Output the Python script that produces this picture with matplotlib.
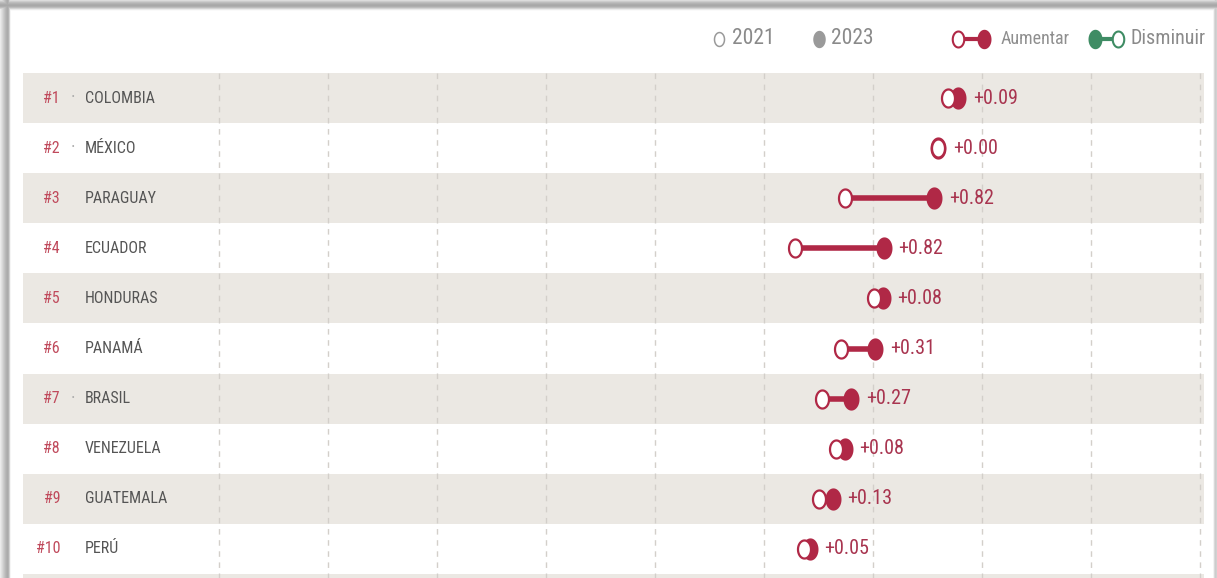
import numpy as np
import matplotlib
matplotlib.use("Agg")
import matplotlib.pyplot as plt
from matplotlib import font_manager
from matplotlib.path import Path
from matplotlib.transforms import blended_transform_factory

# ---------------- data ----------------
ranks = ['#1', '#2', '#3', '#4', '#5', '#6', '#7', '#8', '#9', '#10']
countries = ['COLOMBIA', 'MÉXICO', 'PARAGUAY', 'ECUADOR', 'HONDURAS',
             'PANAMÁ', 'BRASIL', 'VENEZUELA', 'GUATEMALA', 'PERÚ']
score_2021 = [7.69, 7.60, 6.74, 6.28, 7.01, 6.71, 6.53, 6.66, 6.50, 6.37]
score_2023 = [7.78, 7.60, 7.56, 7.10, 7.09, 7.02, 6.80, 6.74, 6.63, 6.42]
rank_marker = ['·', '·', '', '', '', '', '·', '', '', '']
grid_ticks = [1, 2, 3, 4, 5, 6, 7, 8, 9, 10]
legend_years = ['2021', '2023']
legend_dirs = ['Aumentar', 'Disminuir']

# ---------------- style ----------------
RED = '#b02846'
RED_TXT = '#a8344f'
RANK_C = '#c04a5c'
GREEN = '#3f8c64'
BAND = '#ebe8e3'
GRID = '#d3cfca'
TXT = '#555555'
LEG_GRAY = '#9a9a9a'

names = {f.name for f in font_manager.fontManager.ttflist}
FONT = None
for cand in ['Liberation Sans Narrow', 'Roboto Condensed', 'Open Sans Condensed', 'Liberation Sans']:
    if cand in names:
        FONT = cand
        break
if FONT is None:
    FONT = 'DejaVu Sans'
plt.rcParams['font.family'] = [FONT, 'DejaVu Sans']

# tall ellipse marker (the reference appears horizontally squeezed)
_t = np.linspace(0, 2 * np.pi, 73)
ELL = Path(np.column_stack([0.36 * np.cos(_t), 0.5 * np.sin(_t)]), closed=True)

W, H = 1217, 578
fig = plt.figure(figsize=(W / 100, H / 100), dpi=100)
fig.patch.set_facecolor('white')

# ---------------- overlay (frame shadow + legend) ----------------
ov = fig.add_axes([0, 0, 1, 1], zorder=0)
ov.set_xlim(0, W)
ov.set_ylim(H, 0)
ov.axis('off')

img = np.ones((H, W))
top_prof = np.array([0.86, 0.80, 0.74, 0.70, 0.67, 0.66, 0.68, 0.74, 0.83, 0.92, 0.98])
left_prof = np.array([0.92, 0.88, 0.84, 0.80, 0.76, 0.72, 0.69, 0.67, 0.70, 0.82, 0.96])
for i, v in enumerate(top_prof):
    img[i, :] = np.minimum(img[i, :], v)
for j, v in enumerate(left_prof):
    img[:, j] = np.minimum(img[:, j], v)
right_prof = np.array([0.95, 0.85, 0.80, 0.82])
for j, v in enumerate(right_prof):
    img[:, W - 4 + j] = np.minimum(img[:, W - 4 + j], v)
ov.imshow(img, cmap='gray', vmin=0, vmax=1, extent=[0, W, H, 0],
          interpolation='bilinear', aspect='auto', zorder=0)

# legend
ly = 39
ov.plot([719], [ly], marker=ELL, ms=10, mfc='white', mec=LEG_GRAY, mew=1.1, ls='none', zorder=3)
ov.text(732, ly, legend_years[0], fontsize=15.5, color='#8a8a8a', va='center', ha='left')
ov.plot([819], [ly], marker=ELL, ms=12.5, mfc=LEG_GRAY, mec=LEG_GRAY, mew=0, ls='none', zorder=3)
ov.text(831, ly, legend_years[1], fontsize=15.5, color='#8a8a8a', va='center', ha='left')
ov.plot([958, 984], [ly, ly], color=RED, lw=3, zorder=2)
ov.plot([958], [ly], marker=ELL, ms=11.5, mfc='white', mec=RED, mew=1.5, ls='none', zorder=3)
ov.plot([984], [ly], marker=ELL, ms=14, mfc=RED, mec=RED, mew=0, ls='none', zorder=3)
ov.text(1001, ly, legend_dirs[0], fontsize=13, color='#8f8f8f', va='center', ha='left')
ov.plot([1095, 1118], [ly, ly], color=GREEN, lw=3, zorder=2)
ov.plot([1095], [ly], marker=ELL, ms=14, mfc=GREEN, mec=GREEN, mew=0, ls='none', zorder=3)
ov.plot([1118], [ly], marker=ELL, ms=11.5, mfc='white', mec=GREEN, mew=1.5, ls='none', zorder=3)
ov.text(1131, ly, legend_dirs[1], fontsize=14.5, color='#8a8a8a', va='center', ha='left')

# ---------------- main chart ----------------
ax_left_px = 22.8
ax_w_px = 1181.6
ax_top_px = 73
ax = fig.add_axes([ax_left_px / W, 0, ax_w_px / W, (H - ax_top_px) / H], zorder=1)
ax.set_xlim(-0.8, 10.04)
n = len(countries)
ax.set_ylim(n + 0.08, 0)
ax.axis('off')

for i in range(n + 1):
    if i % 2 == 0:
        ax.axhspan(i, i + 1, color=BAND, lw=0, zorder=0)

ax.vlines(grid_ticks, 0, n + 0.08, colors=GRID, linestyles=(0, (4, 4)), lw=1, zorder=1)

lab = blended_transform_factory(ax.transAxes, ax.transData)
for i in range(n):
    y = i + 0.5
    a, b = score_2021[i], score_2023[i]
    ax.text((60 - ax_left_px) / ax_w_px, y, ranks[i], transform=lab, ha='right', va='center',
            fontsize=11.5, color=RANK_C)
    if rank_marker[i]:
        ax.text((73 - ax_left_px) / ax_w_px, y, rank_marker[i], transform=lab, ha='center',
                va='center', fontsize=13, color='#aaaaaa')
    ax.text((85 - ax_left_px) / ax_w_px, y, countries[i], transform=lab, ha='left', va='center',
            fontsize=11.5, color=TXT)
    col = RED if b >= a else GREEN
    ax.plot([a, b], [y, y], color=col, lw=4, solid_capstyle='butt', zorder=3)
    ax.plot([b], [y], marker=ELL, ms=16, mfc=col, mec=col, mew=0, ls='none', zorder=4)
    ax.plot([a], [y], marker=ELL, ms=13, mfc='white', mec=col, mew=1.6, ls='none', zorder=5)
    d = b - a
    ax.annotate(f'{d:+.2f}', xy=(max(a, b), y), xytext=(10.5, 0), textcoords='offset points',
                ha='left', va='center', fontsize=14.5, color=RED_TXT, zorder=6)

fig.savefig('out.png', dpi=100)
